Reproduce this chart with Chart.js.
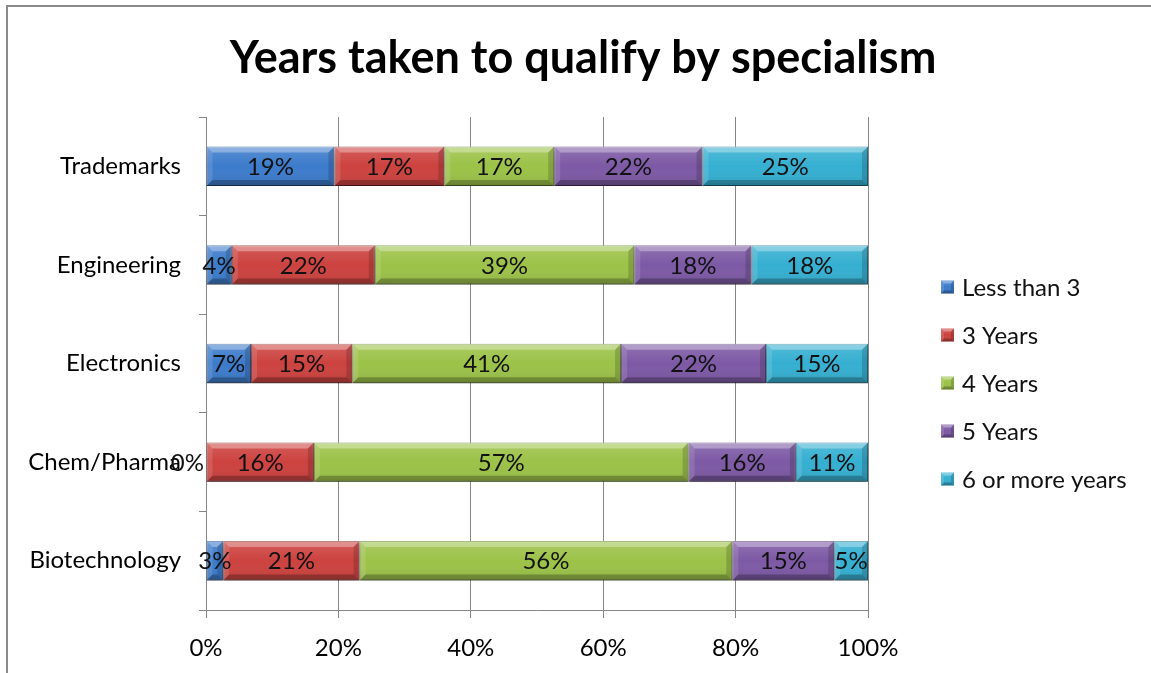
<!DOCTYPE html>
<html><head><meta charset="utf-8">
<script src="https://cdn.jsdelivr.net/npm/chart.js@4.4.1/dist/chart.umd.min.js"></script>
<style>html,body{margin:0;padding:0;background:#fff;overflow:hidden}canvas{display:block}</style>
</head><body>
<canvas id="c" width="1151" height="673"></canvas>
<script>
const categories = ['Trademarks', 'Engineering', 'Electronics', 'Chem/Pharma', 'Biotechnology'];
const seriesNames = ['Less than 3', '3 Years', '4 Years', '5 Years', '6 or more years'];
const lessThan3  = [19.4, 3.9,  6.8,  0,    2.6];
const years3     = [16.6, 21.6, 15.3, 16.3, 20.6];
const years4     = [16.6, 39.2, 40.6, 56.6, 56.3];
const years5     = [22.4, 17.7, 21.9, 16.2, 15.4];
const years6plus = [25.0, 17.6, 15.4, 10.9, 5.1];
const xTickValues = [0, 20, 40, 60, 80, 100];
const chartTitle = 'Years taken to qualify by specialism';
const seriesColors = ['#3c7bcb', '#cc423f', '#9cc248', '#7d59a5', '#35afd1'];
const seriesBorders = ['#2b5a96', '#8e2d2b', '#6f8c33', '#573e77', '#237f99'];

const FONT = 'Lato';

function bevel(ctx, x0, y0, x1, y1, b) {
  const w = x1 - x0, h = y1 - y0;
  if (w < 1) return;
  const bb = Math.min(b, w / 2, h / 2);
  ctx.save();
  const g = ctx.createLinearGradient(0, y0, 0, y1);
  g.addColorStop(0, 'rgba(255,255,255,0.15)');
  g.addColorStop(0.5, 'rgba(255,255,255,0)');
  g.addColorStop(1, 'rgba(0,0,0,0.10)');
  ctx.fillStyle = g;
  ctx.fillRect(x0, y0, w, h);
  ctx.beginPath();
  ctx.moveTo(x0, y0); ctx.lineTo(x1, y0); ctx.lineTo(x1 - bb, y0 + bb); ctx.lineTo(x0 + bb, y0 + bb); ctx.closePath();
  ctx.fillStyle = 'rgba(255,255,255,0.32)'; ctx.fill();
  ctx.beginPath();
  ctx.moveTo(x0, y1); ctx.lineTo(x1, y1); ctx.lineTo(x1 - bb, y1 - bb); ctx.lineTo(x0 + bb, y1 - bb); ctx.closePath();
  ctx.fillStyle = 'rgba(0,0,0,0.25)'; ctx.fill();
  ctx.beginPath();
  ctx.moveTo(x0, y0); ctx.lineTo(x0 + bb, y0 + bb); ctx.lineTo(x0 + bb, y1 - bb); ctx.lineTo(x0, y1); ctx.closePath();
  ctx.fillStyle = 'rgba(255,255,255,0.12)'; ctx.fill();
  ctx.beginPath();
  ctx.moveTo(x1, y0); ctx.lineTo(x1 - bb, y0 + bb); ctx.lineTo(x1 - bb, y1 - bb); ctx.lineTo(x1, y1); ctx.closePath();
  ctx.fillStyle = 'rgba(0,0,0,0.16)'; ctx.fill();
  ctx.restore();
}

const decorPlugin = {
  id: 'decor',
  beforeDraw(chart) {
    const ctx = chart.ctx;
    ctx.save();
    ctx.fillStyle = '#fff';
    ctx.fillRect(0, 0, chart.width, chart.height);
    ctx.font = 'bold 45px ' + FONT;
    ctx.fillStyle = '#000';
    ctx.textAlign = 'center';
    ctx.textBaseline = 'alphabetic';
    ctx.fillText(chartTitle, 583, 73);
    ctx.restore();
  },
  beforeDatasetsDraw(chart) {
    const ctx = chart.ctx;
    ctx.save();
    ctx.shadowColor = 'rgba(0,0,0,0.35)';
    ctx.shadowBlur = 4;
    ctx.shadowOffsetY = 3;
  },
  afterDatasetsDraw(chart) {
    const ctx = chart.ctx;
    ctx.restore();
    const labels = [];
    chart.data.datasets.forEach((ds, di) => {
      const meta = chart.getDatasetMeta(di);
      meta.data.forEach((bar, i) => {
        const x0 = Math.min(bar.x, bar.base), x1 = Math.max(bar.x, bar.base);
        const y0 = bar.y - bar.height / 2, y1 = bar.y + bar.height / 2;
        bevel(ctx, x0, y0, x1, y1, 6);
        labels.push({v: ds.data[i], x0, x1, y: bar.y});
      });
    });
    ctx.save();
    ctx.font = '24px ' + FONT;
    ctx.fillStyle = '#111';
    ctx.textBaseline = 'middle';
    labels.forEach(l => {
      const t = Math.round(l.v) + '%';
      if (l.x1 - l.x0 < 0.5) {
        ctx.textAlign = 'right';
        ctx.fillText(t, l.x0 - 2, l.y + 1);
      } else {
        ctx.textAlign = 'center';
        ctx.fillText(t, (l.x0 + l.x1) / 2, l.y + 1);
      }
    });
    ctx.restore();
  },
  afterDraw(chart) {
    const ctx = chart.ctx;
    ctx.save();
    ctx.font = '24px ' + FONT;
    ctx.textBaseline = 'middle';
    ctx.textAlign = 'left';
    chart.data.datasets.forEach((ds, i) => {
      const cy = 287 + 48 * i;
      ctx.fillStyle = ds.backgroundColor;
      ctx.fillRect(941, cy - 6.5, 13, 13);
      bevel(ctx, 941, cy - 6.5, 954, cy + 6.5, 3);
      ctx.fillStyle = '#111';
      ctx.fillText(ds.label, 962, cy + 1);
    });
    ctx.fillStyle = '#8a8a8a';
    ctx.fillRect(6, 5, 2, chart.height - 5);
    ctx.fillRect(6, 5, chart.width - 6, 2);
    ctx.restore();
  }
};

const seriesData = [lessThan3, years3, years4, years5, years6plus];

new Chart(document.getElementById('c'), {
  type: 'bar',
  data: {
    labels: categories,
    datasets: seriesNames.map((name, i) => ({
      label: name,
      data: seriesData[i],
      backgroundColor: seriesColors[i],
      borderColor: seriesBorders[i],
      borderWidth: 1,
      borderSkipped: false,
      barPercentage: 0.4,
      categoryPercentage: 1.0
    }))
  },
  options: {
    indexAxis: 'y',
    responsive: false,
    animation: false,
    devicePixelRatio: 1,
    layout: {padding: {left: 0, right: 283, top: 117, bottom: 0}},
    plugins: {
      legend: {display: false},
      tooltip: {enabled: false},
      title: {display: false}
    },
    scales: {
      x: {
        stacked: true,
        min: 0,
        max: 100,
        afterBuildTicks: s => { s.ticks = xTickValues.map(v => ({value: v})); },
        ticks: {callback: v => v + '%', color: '#000', font: {family: FONT, size: 24}, padding: 16, maxRotation: 0},
        grid: {color: '#868686', tickLength: 8, lineWidth: 1},
        border: {color: '#868686'},
        afterFit: s => { s.height = 63; }
      },
      y: {
        stacked: true,
        ticks: {color: '#000', font: {family: FONT, size: 24}, padding: 18},
        grid: {drawOnChartArea: false, tickLength: 7, color: '#868686'},
        border: {color: '#868686'},
        afterFit: s => { s.width = 206; }
      }
    }
  },
  plugins: [decorPlugin]
});
</script>
</body></html>
